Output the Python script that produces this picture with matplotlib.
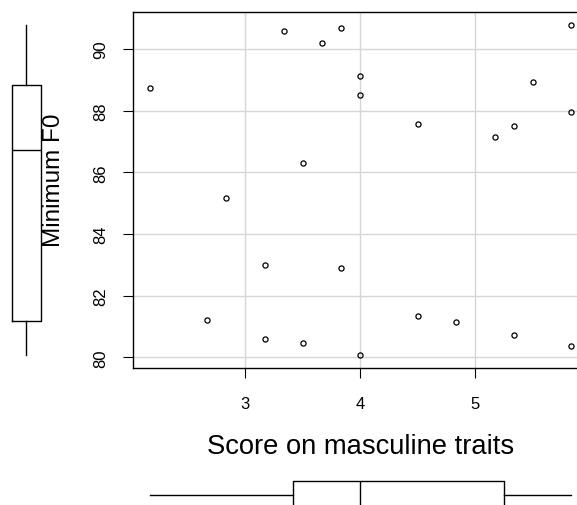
import matplotlib
matplotlib.use("Agg")
import matplotlib.pyplot as plt
import numpy as np
from matplotlib import cbook

plt.rcParams['font.family'] = ['Liberation Sans', 'DejaVu Sans']

# Data
masculine_score = [2.167, 2.833, 2.667, 3.167, 3.167, 3.333, 3.5, 3.5, 3.667, 3.833,
                   3.833, 4.0, 4.0, 4.0, 4.5, 4.5, 4.833, 5.167, 5.333, 5.333,
                   5.5, 5.833, 5.833, 5.833]
minimum_f0 = [88.72, 85.16, 81.22, 82.98, 80.58, 90.58, 86.29, 80.45, 90.18, 90.68,
              82.90, 89.13, 88.50, 80.09, 87.56, 81.35, 81.13, 87.15, 87.51, 80.73,
              88.92, 90.77, 87.97, 80.37]
x_ticks = [3, 4, 5]
y_ticks = [80, 82, 84, 86, 88, 90]
x_label = "Score on masculine traits"
y_label = "Minimum F0"

W, H = 577, 506
fig = plt.figure(figsize=(W / 100, H / 100), dpi=100)

def frac(x0, y0, x1, y1):
    return [x0 / W, 1 - y1 / H, (x1 - x0) / W, (y1 - y0) / H]

# R-style 4% range extension
def ext(v):
    lo, hi = min(v), max(v)
    d = (hi - lo) * 0.04
    return lo - d, hi + d

# Tukey hinges (as R's boxplot uses)
def tukey_stats(v):
    st = cbook.boxplot_stats(np.asarray(v), whis=1.5)[0]
    x = np.sort(np.asarray(v, dtype=float))
    n = len(x)
    n4 = np.floor((n + 3) / 2) / 2
    d = np.array([1, n4, (n + 1) / 2, n + 1 - n4, n]) - 1
    f = 0.5 * (x[np.floor(d).astype(int)] + x[np.ceil(d).astype(int)])
    st['q1'], st['med'], st['q3'] = f[1], f[2], f[3]
    iqr = f[3] - f[1]
    st['whislo'] = x[x >= f[1] - 1.5 * iqr].min()
    st['whishi'] = x[x <= f[3] + 1.5 * iqr].max()
    st['fliers'] = []
    return st

xlim = ext(masculine_score)
ylim = ext(minimum_f0)

px_per_x = 115.0
px_per_y = 30.84
left_px, top_px = 132.7, 13.0
right_px = left_px + (xlim[1] - xlim[0]) * px_per_x
bottom_px = top_px + (ylim[1] - ylim[0]) * px_per_y

ax = fig.add_axes(frac(left_px, top_px, right_px, bottom_px))
ax.set_xlim(*xlim)
ax.set_ylim(*ylim)
ax.set_xticks(x_ticks)
ax.set_yticks(y_ticks)
ax.grid(True, color='#d6d6d6', linewidth=1.0)
ax.set_axisbelow(True)
ax.plot(masculine_score, minimum_f0, linestyle='none', marker='o', markersize=3.7,
        markerfacecolor='none', markeredgecolor='black', markeredgewidth=0.9, zorder=3)
for s in ax.spines.values():
    s.set_linewidth(1.0)
ax.tick_params(axis='both', direction='out', length=7.5, width=0.8, labelsize=12, color='black')
ax.tick_params(axis='x', pad=13)
ax.tick_params(axis='y', pad=10)
plt.setp(ax.get_yticklabels(), rotation=90, va='center')
ax.set_xlabel(x_label, fontsize=19.7)
ax.xaxis.set_label_coords(0.5, -0.219)
ax.xaxis.label.set_va('center')
ax.set_ylabel(y_label, fontsize=17.5, va='center')
ax.yaxis.set_label_coords((54 - left_px) / (right_px - left_px), 0.53)

box_kw = dict(showcaps=False, showfliers=False,
              boxprops=dict(color='black', linewidth=1.0),
              whiskerprops=dict(color='black', linewidth=1.0),
              medianprops=dict(color='black', linewidth=1.0))

# Left marginal boxplot
axl = fig.add_axes(frac(0, top_px, 52.4, bottom_px))
axl.bxp([tukey_stats(minimum_f0)], positions=[0], widths=29 / 26.2, vert=True, **box_kw)
axl.set_xlim(-1, 1)
axl.set_ylim(*ylim)
axl.axis('off')

# Bottom marginal boxplot
axb = fig.add_axes(frac(left_px, 470, right_px, 521.4))
axb.bxp([tukey_stats(masculine_score)], positions=[0], widths=26.8 / 25.7, vert=False, **box_kw)
axb.set_xlim(*xlim)
axb.set_ylim(-1, 1)
axb.axis('off')

fig.savefig("out.png", dpi=100)
